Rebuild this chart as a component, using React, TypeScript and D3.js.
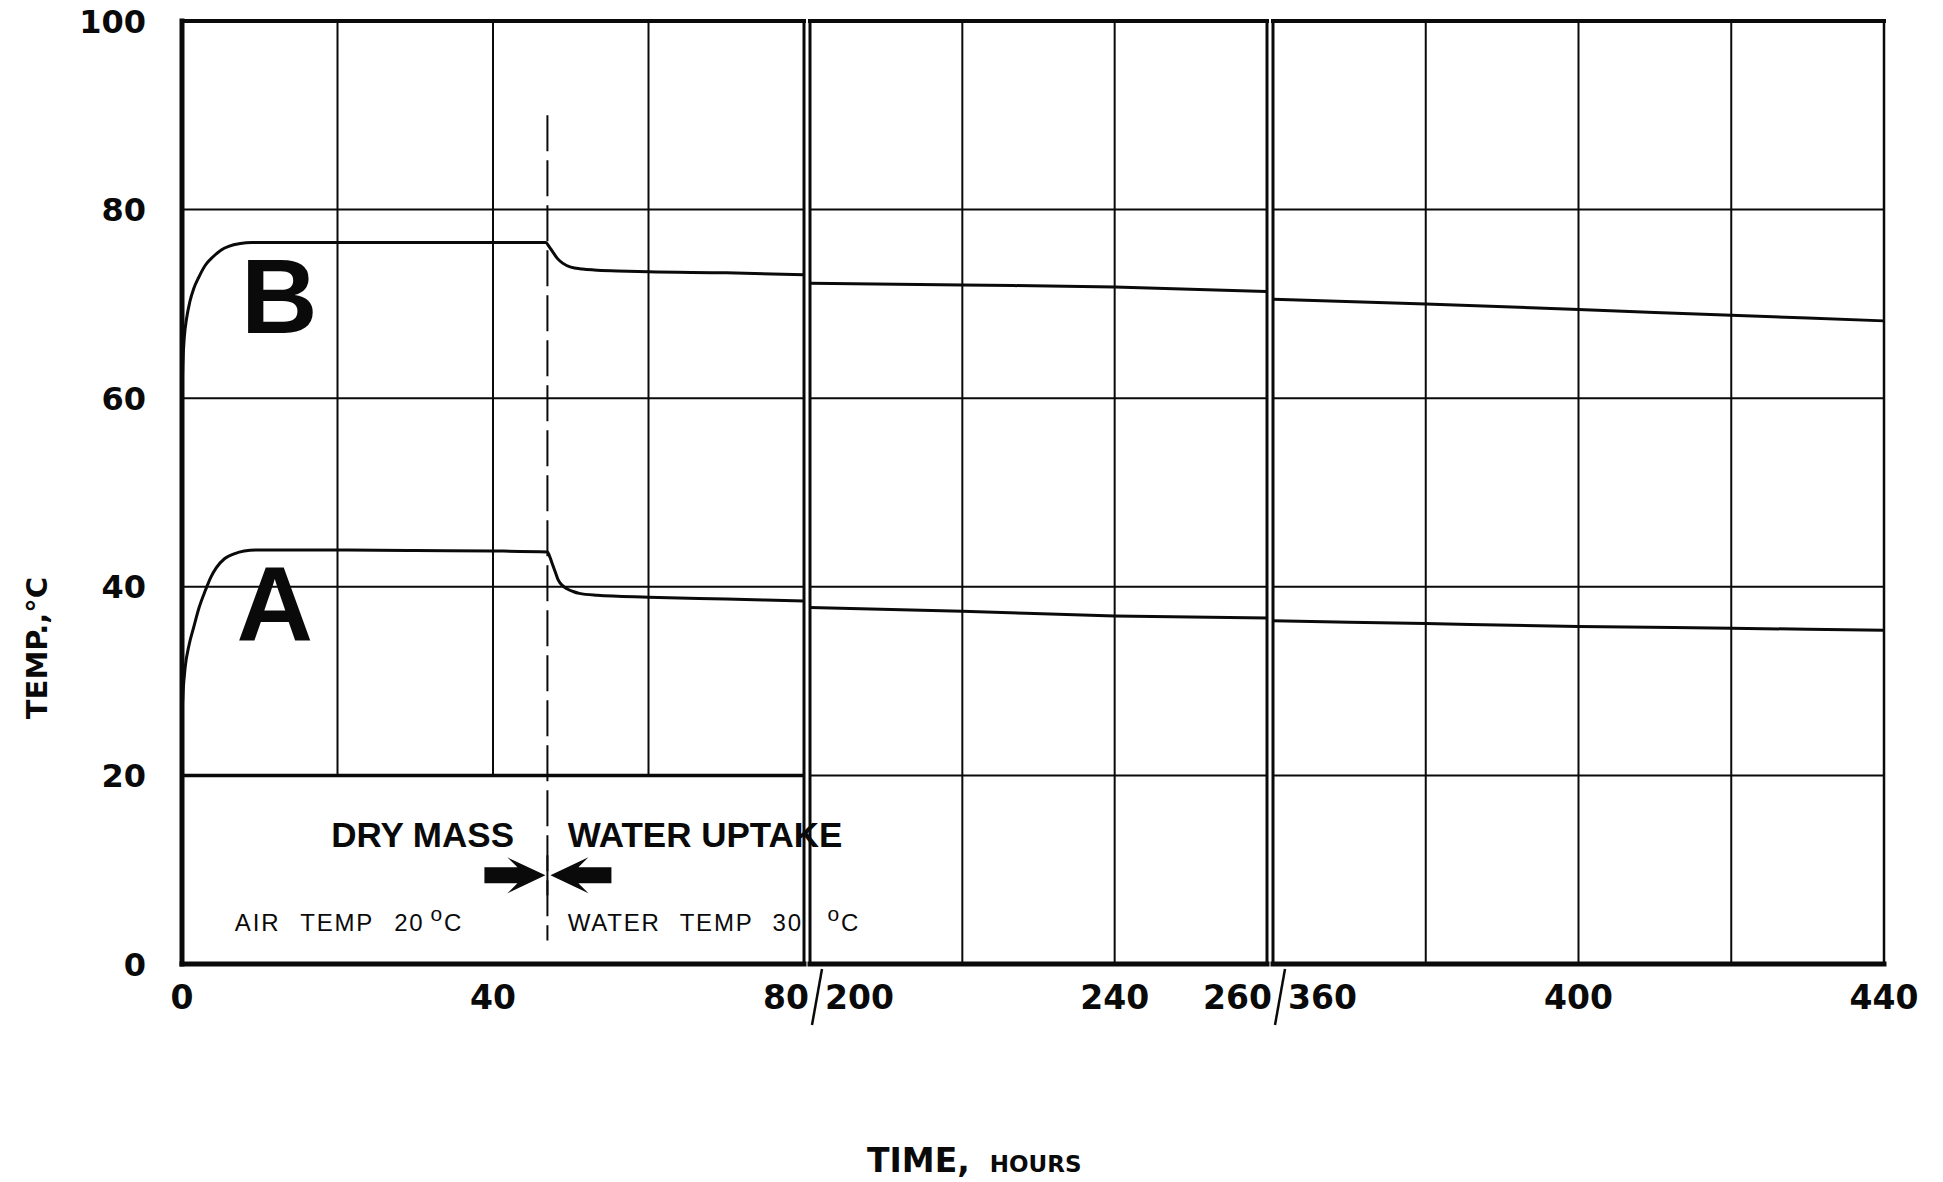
import React from 'react';
import * as d3 from 'd3';

const W = 1943;
const H = 1182;

// ---- axis / tick data ----
const yTicks = [0, 20, 40, 60, 80, 100];
const hGrid = [20, 40, 60, 80];
const p1Domain: [number, number] = [0, 80];
const p2Domain: [number, number] = [200, 260];
const p3Domain: [number, number] = [360, 440];
const p1Grid = [20, 40, 60];
const p2Grid = [220, 240];
const p3Grid = [380, 400, 420];
const p1Labels = [0, 40];
const p2Labels = [240];
const p3Labels = [400, 440];
const breakLabels = [
  { left: '80', right: '200' },
  { left: '260', right: '360' },
];

// ---- series data: [hours, temperature °C] ----
const curveB1: [number, number][] = [
  [0, 60.5], [0.1, 63.5], [0.3, 66.5], [0.6, 68.5], [1.0, 70.2], [1.5, 71.6], [2.2, 72.9],
  [3.0, 74.1], [4.0, 75.0], [5.0, 75.7], [6.0, 76.1], [7.5, 76.4], [9, 76.5], [20, 76.5],
  [30, 76.5], [40, 76.5], [46.8, 76.5], [47.2, 76.1], [47.7, 75.5], [48.3, 74.8],
  [49, 74.3], [50, 73.9], [51.5, 73.7], [53, 73.6], [56, 73.5], [60, 73.4], [70, 73.3], [80, 73.1],
];
const curveA1: [number, number][] = [
  [0, 26.5], [0.15, 29], [0.4, 31.4], [0.9, 33.8], [1.5, 35.7], [2.2, 37.8], [3.0, 39.6],
  [3.7, 41.0], [4.4, 42.0], [5.5, 43.0], [6.7, 43.5], [8, 43.8], [9.5, 43.9], [20, 43.9],
  [30, 43.85], [40, 43.8], [47, 43.7], [47.3, 43.2], [47.6, 42.5], [48, 41.6], [48.4, 40.7],
  [49, 40.1], [49.5, 39.8], [50.3, 39.5], [51.1, 39.3], [53.4, 39.1], [60, 38.9], [70, 38.7], [80, 38.5],
];
const curveB2: [number, number][] = [[200, 72.2], [220, 72.0], [240, 71.8], [260, 71.3]];
const curveA2: [number, number][] = [[200, 37.8], [220, 37.4], [240, 36.9], [260, 36.7]];
const curveB3: [number, number][] = [[360, 70.5], [380, 70.0], [400, 69.4], [420, 68.8], [440, 68.2]];
const curveA3: [number, number][] = [[360, 36.4], [380, 36.1], [400, 35.8], [420, 35.6], [440, 35.4]];

const switchHour = 47; // dry mass -> water uptake
const switchRange = [2.5, 90];

const FONT_TICK = '"DejaVu Sans", sans-serif';
const FONT_HELV = '"Liberation Sans", Arial, sans-serif';

export default function App() {
  const y = d3.scaleLinear().domain([0, 100]).range([964, 21]);
  const x1 = d3.scaleLinear().domain(p1Domain).range([182, 804]);
  const x2 = d3.scaleLinear().domain(p2Domain).range([810, 1267]);
  const x3 = d3.scaleLinear().domain(p3Domain).range([1273, 1884]);

  const mkLine = (xs: d3.ScaleLinear<number, number>) =>
    d3
      .line<[number, number]>()
      .x((d) => xs(d[0]))
      .y((d) => y(d[1]))
      .curve(d3.curveMonotoneX);

  const l1 = mkLine(x1);
  const l2 = mkLine(x2);
  const l3 = mkLine(x3);

  const ink = '#0a0a0a';
  const gridW = 2;

  const panels = [
    { xs: x1, dom: p1Domain, grid: p1Grid, gridBottom: 20, leftW: 5, rightW: 3 },
    { xs: x2, dom: p2Domain, grid: p2Grid, gridBottom: 0, leftW: 3, rightW: 3 },
    { xs: x3, dom: p3Domain, grid: p3Grid, gridBottom: 0, leftW: 3, rightW: 2.5 },
  ];

  // arrow shape (pointing right, tip at origin)
  const arrowPath = 'M0,0 L-38,-18 L-28,-8 L-61,-8 L-61,8 L-28,8 L-38,18 Z';
  const ax = x1(switchHour);
  const ay = y(9.4);

  return (
    <svg
      width={W}
      height={H}
      style={{ position: 'absolute', left: 0, top: 0, background: '#fff' }}
      xmlns="http://www.w3.org/2000/svg"
    >
      <rect x={0} y={0} width={W} height={H} fill="#fff" />

      {/* grid */}
      {panels.map((p, i) => {
        const [a, b] = p.dom;
        return (
          <g key={'g' + i} stroke={ink} strokeWidth={gridW}>
            {hGrid.map((v) => (
              <line
                key={v}
                x1={p.xs(a)}
                x2={p.xs(b)}
                y1={y(v)}
                y2={y(v)}
                strokeWidth={i === 0 && v === 20 ? 3.5 : gridW}
              />
            ))}
            {p.grid.map((t) => (
              <line key={t} x1={p.xs(t)} x2={p.xs(t)} y1={y(100)} y2={y(p.gridBottom)} />
            ))}
          </g>
        );
      })}

      {/* panel borders */}
      {panels.map((p, i) => {
        const [a, b] = p.dom;
        return (
          <g key={'b' + i} stroke={ink} strokeLinecap="square" fill="none">
            <line x1={p.xs(a)} x2={p.xs(b)} y1={y(100)} y2={y(100)} strokeWidth={4} />
            <line x1={p.xs(a)} x2={p.xs(b)} y1={y(0)} y2={y(0)} strokeWidth={5} />
            <line x1={p.xs(a)} x2={p.xs(a)} y1={y(100)} y2={y(0)} strokeWidth={p.leftW} />
            <line x1={p.xs(b)} x2={p.xs(b)} y1={y(100)} y2={y(0)} strokeWidth={p.rightW} />
          </g>
        );
      })}

      {/* dashed switch line */}
      <line
        x1={x1(switchHour)}
        x2={x1(switchHour)}
        y1={y(switchRange[1])}
        y2={y(switchRange[0])}
        stroke={ink}
        strokeWidth={2}
        strokeDasharray="36,9"
      />
      <line x1={ax} x2={ax} y1={ay - 20} y2={ay + 20} stroke={ink} strokeWidth={2} />

      {/* curves */}
      <g fill="none" stroke={ink} strokeWidth={3} strokeLinejoin="round">
        <path d={l1(curveB1) || ''} />
        <path d={l1(curveA1) || ''} />
        <path d={l2(curveB2) || ''} />
        <path d={l2(curveA2) || ''} />
        <path d={l3(curveB3) || ''} />
        <path d={l3(curveA3) || ''} />
      </g>

      {/* curve labels */}
      <text x={x1(7.6)} y={y(66.9)} fontFamily={FONT_HELV} fontWeight="bold" fontSize={106} fill={ink}>
        B
      </text>
      <text x={x1(7.0)} y={y(34.3)} fontFamily={FONT_HELV} fontWeight="bold" fontSize={106} fill={ink}>
        A
      </text>

      {/* annotations */}
      <g fontFamily={FONT_HELV} fontWeight="bold" fontSize={35} fill={ink} style={{ whiteSpace: 'pre' }}>
        <text x={x1(42.7)} y={y(12.4)} textAnchor="end">DRY MASS</text>
        <text x={x1(49.6)} y={y(12.4)}>WATER  UPTAKE</text>
      </g>
      <path d={arrowPath} transform={`translate(${ax - 2},${ay})`} fill={ink} />
      <path d={arrowPath} transform={`translate(${ax + 3},${ay}) scale(-1,1)`} fill={ink} />
      <g fontFamily={FONT_HELV} fontSize={24} fill={ink} letterSpacing={1.8} style={{ whiteSpace: 'pre' }}>
        <text x={x1(6.8)} y={y(3.5)} wordSpacing={12}>
          AIR TEMP  20
          <tspan dx={6} dy={-10} fontSize={21}>o</tspan>
          <tspan dy={10}>C</tspan>
        </text>
        <text x={x1(49.6)} y={y(3.5)} wordSpacing={11}>
          WATER TEMP 30
        </text>
        <text x={x2(202.3)} y={y(3.5)}>
          <tspan dy={-10} fontSize={21}>o</tspan>
          <tspan dy={10}>C</tspan>
        </text>
      </g>

      {/* y tick labels */}
      <g fontFamily={FONT_TICK} fontWeight="bold" fontSize={32} fill={ink} textAnchor="end">
        {yTicks.map((v) => (
          <text key={v} x={146} y={y(v)} dy="0.36em">
            {v}
          </text>
        ))}
      </g>

      {/* x tick labels */}
      <g fontFamily={FONT_TICK} fontWeight="bold" fontSize={33} fill={ink}>
        {p1Labels.map((t) => (
          <text key={'a' + t} x={x1(t)} y={1009} textAnchor="middle">{t}</text>
        ))}
        {p2Labels.map((t) => (
          <text key={'b' + t} x={x2(t)} y={1009} textAnchor="middle">{t}</text>
        ))}
        {p3Labels.map((t) => (
          <text key={'c' + t} x={x3(t)} y={1009} textAnchor="middle">{t}</text>
        ))}
        {breakLabels.map((b, i) => {
          const xb = i === 0 ? x2(p2Domain[0]) : x3(p3Domain[0]);
          return (
            <g key={'br' + i}>
              <text x={xb - 1} y={1009} textAnchor="end">{b.left}</text>
              <text x={xb + 15} y={1009} textAnchor="start">{b.right}</text>
              <line x1={xb + 12} y1={969} x2={xb + 2} y2={1025} stroke={ink} strokeWidth={2.5} />
            </g>
          );
        })}
      </g>

      {/* axis titles */}
      <text
        transform={`translate(47, ${y(33.5)}) rotate(-90)`}
        textAnchor="middle"
        fontFamily={FONT_TICK}
        fontWeight="bold"
        fontSize={29}
        fill={ink}
      >
        TEMP.,°C
      </text>
      <text x={867} y={1172} fontFamily={FONT_TICK} fontWeight="bold" fontSize={33} fill={ink}>
        TIME,
        <tspan dx={20} fontSize={23}>HOURS</tspan>
      </text>
    </svg>
  );
}
